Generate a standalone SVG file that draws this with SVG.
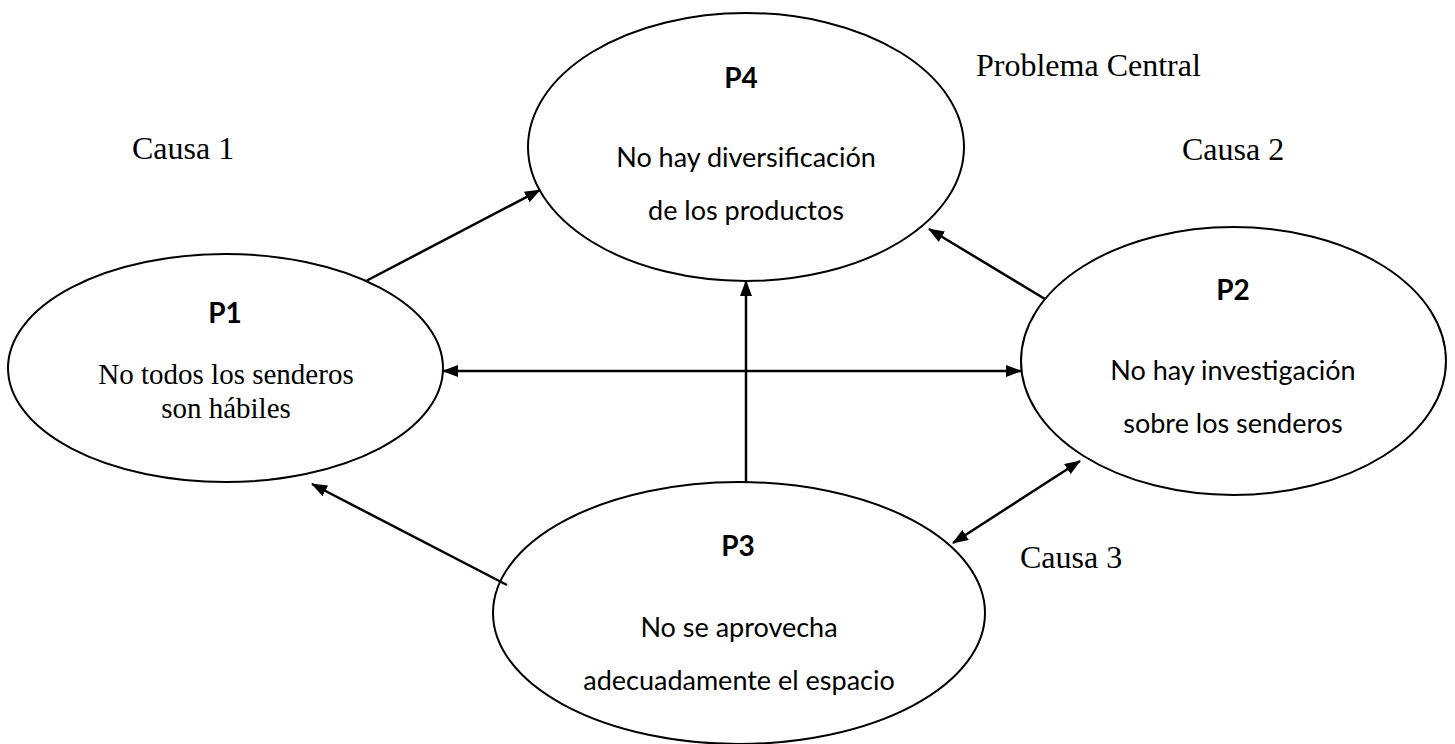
<svg xmlns="http://www.w3.org/2000/svg" width="1455" height="744" viewBox="0 0 1455 744">
<style>
.node{fill:#fff;stroke:#000;stroke-width:2}
.lbl{font-family:Lato,"Open Sans","Liberation Sans",sans-serif;font-weight:bold;font-size:28px;text-anchor:middle;fill:#000}
.cal{font-family:Lato,"Open Sans","Liberation Sans",sans-serif;font-size:27px;text-anchor:middle;fill:#000}
.tnr{font-family:"Liberation Serif","Times New Roman",serif;font-size:29px;text-anchor:middle;fill:#000}
.cap{font-family:"Liberation Serif","Times New Roman",serif;font-size:32px;fill:#000}
.con{stroke:#000;stroke-width:2.5;fill:none;marker-end:url(#ah)}
.dbl{marker-start:url(#ah)}
</style>
<defs>
<marker id="ah" markerUnits="userSpaceOnUse" markerWidth="16" markerHeight="12" refX="15" refY="6" orient="auto-start-reverse">
<path d="M0,0 L16,6 L0,12 z" fill="#000"/>
</marker>
</defs>
<rect width="1455" height="744" fill="#fff"/>
<g id="P4">
<ellipse class="node" cx="746" cy="147" rx="218" ry="134"/>
<text class="lbl" x="741" y="88">P4</text>
<text class="cal" x="746" y="167">No hay diversificación</text>
<text class="cal" x="746" y="220">de los productos</text>
</g>
<g id="P1">
<ellipse class="node" cx="225.5" cy="368" rx="217.5" ry="114"/>
<text class="lbl" x="225" y="323">P1</text>
<text class="tnr" x="226" y="384">No todos los senderos</text>
<text class="tnr" x="226" y="418">son hábiles</text>
</g>
<g id="P2">
<ellipse class="node" cx="1233.5" cy="361" rx="212.5" ry="134"/>
<text class="lbl" x="1233" y="300">P2</text>
<text class="cal" x="1233" y="380">No hay investigación</text>
<text class="cal" x="1233" y="433">sobre los senderos</text>
</g>
<g id="P3">
<ellipse class="node" cx="739" cy="613" rx="246" ry="131"/>
<text class="lbl" x="738" y="556">P3</text>
<text class="cal" x="739" y="637">No se aprovecha</text>
<text class="cal" x="739" y="690">adecuadamente el espacio</text>
</g>
<g id="labels">
<text class="cap" x="976" y="76">Problema Central</text>
<text class="cap" x="132" y="159">Causa 1</text>
<text class="cap" x="1182" y="160">Causa 2</text>
<text class="cap" x="1020" y="568">Causa 3</text>
</g>
<g id="connectors">
<line class="con" x1="366" y1="281" x2="540" y2="190"/>
<line class="con" x1="1045" y1="299" x2="929" y2="229"/>
<line class="con" x1="746" y1="483" x2="746" y2="281"/>
<line class="con dbl" x1="443" y1="371" x2="1021" y2="371"/>
<line class="con" x1="507" y1="585" x2="312" y2="484"/>
<line class="con dbl" x1="953" y1="543" x2="1080" y2="461"/>
</g>
</svg>
